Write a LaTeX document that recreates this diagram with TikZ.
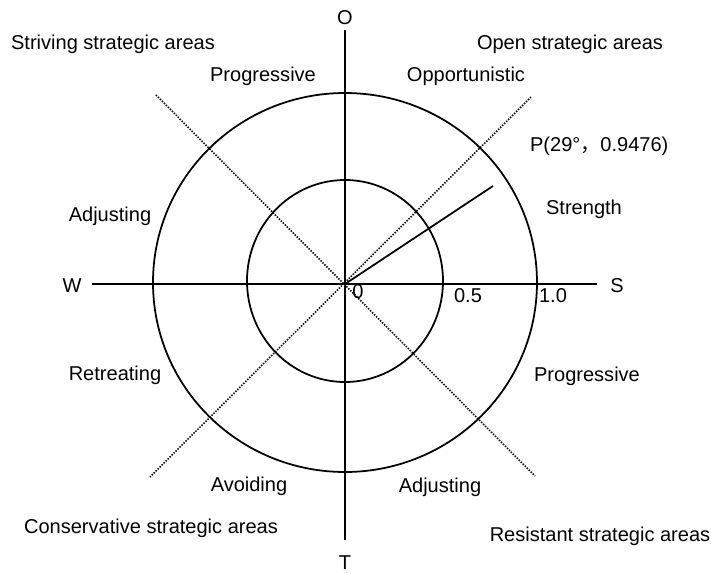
\documentclass[tikz,border=0pt]{standalone}
\usepackage{fontspec}
\setmainfont{Liberation Sans}
\newfontfamily\cjk{Noto Sans CJK SC}
\usepackage{tikz}

\begin{document}
\begin{tikzpicture}[
		axis/.style={line width=1pt},
		ring/.style={line width=1pt},
		diag/.style={line width=0.9pt, dash pattern=on 0.8pt off 0.8pt},
		lbl/.style={font=\fontsize{11.4}{13}\selectfont, inner sep=1pt}
	]
			%%%%% START %%%%%
			
			\useasboundingbox (-6.9, -5.8) rectangle (7.32, 5.68);
			
			\coordinate (c) at (0, 0);
			\coordinate (wend) at (-5.06, 0);
			\coordinate (send) at (5.04, 0);
			\coordinate (oend) at (0, 5.08);
			\coordinate (tend) at (0, -5.12);
			\coordinate (nw) at (-3.78, 3.78);
			\coordinate (se) at (3.8, -3.84);
			\coordinate (ne) at (3.72, 3.74);
			\coordinate (sw) at (-3.9, -3.86);
			\coordinate (P) at (2.96, 1.96);
			
			\draw[ring] (0, 0.03) ellipse (3.84 and 3.79);
			\draw[ring] (0, 0.06) ellipse (1.96 and 2.02);
			
			\draw[diag] (nw) -- (se);
			\draw[diag] (ne) -- (sw);
			
			\draw[axis] (wend) -- (send);
			\draw[axis] (oend) -- (tend);
			\draw[axis] (c) -- (P);
			
			% axis ends
			\node[lbl] (O) at (0, 5.32) {O};
			\node[lbl] (T) at (0, -5.58) {T};
			\node[lbl] (W) at (-5.46, -0.04) {W};
			\node[lbl] (S) at (5.44, -0.04) {S};
			
			% scale marks
			\node[lbl] (zero) at (0.26, -0.16) {0};
			\node[lbl] (half) at (2.46, -0.24) {0.5};
			\node[lbl] (one) at (4.16, -0.24) {1.0};
			
			\node[lbl, anchor=west] (plabel) at (3.66, 2.76) {P(29°{\cjk ，}0.9476)};
			
			% quadrants
			\node[lbl] (striving) at (-4.64, 4.8) {Striving strategic areas};
			\node[lbl] (open) at (4.5, 4.8) {Open strategic areas};
			\node[lbl] (conserv) at (-3.88, -4.88) {Conservative strategic areas};
			\node[lbl] (resist) at (5.1, -5.04) {Resistant strategic areas};
			
			% sectors
			\node[lbl] (progtop) at (-1.64, 4.16) {Progressive};
			\node[lbl] (opport) at (2.42, 4.16) {Opportunistic};
			\node[lbl] (strength) at (4.78, 1.5) {Strength};
			\node[lbl] (adjleft) at (-4.7, 1.36) {Adjusting};
			\node[lbl] (retreat) at (-4.6, -1.82) {Retreating};
			\node[lbl] (progright) at (4.84, -1.84) {Progressive};
			\node[lbl] (avoid) at (-1.92, -4.04) {Avoiding};
			\node[lbl] (adjbot) at (1.9, -4.06) {Adjusting};
			
			%%%%% END %%%%%
		\end{tikzpicture}
\end{document}
